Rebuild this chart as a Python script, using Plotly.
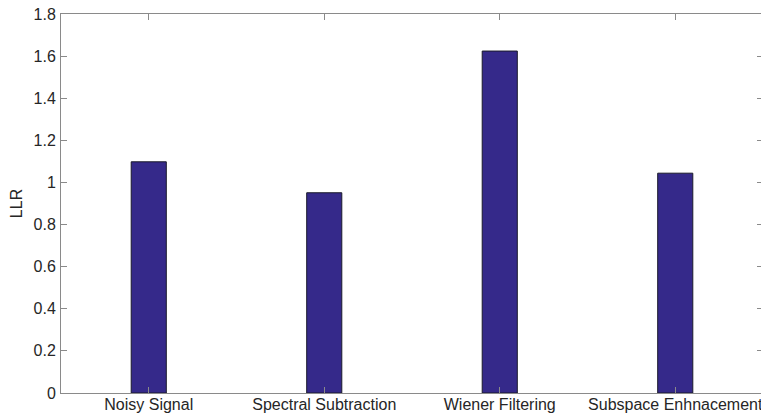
import plotly.graph_objects as go

categories = ["Noisy Signal", "Spectral Subtraction", "Wiener Filtering", "Subspace Enhnacement"]
llr_values = [1.098, 0.951, 1.624, 1.044]
y_ticks = [0, 0.2, 0.4, 0.6, 0.8, 1, 1.2, 1.4, 1.6, 1.8]
y_tick_labels = ["0", "0.2", "0.4", "0.6", "0.8", "1", "1.2", "1.4", "1.6", "1.8"]

x_pos = list(range(1, len(categories) + 1))

FONT = "Liberation Sans, Arial, Helvetica, sans-serif"

fig = go.Figure()
fig.add_trace(go.Bar(
    x=x_pos, y=llr_values, width=0.2,
    marker=dict(color="#35298a", line=dict(color="#1a1a2a", width=1)),
))

axis_common = dict(
    showline=True, linecolor="#8a8a8a", linewidth=1, mirror="ticks",
    ticks="inside", ticklen=6, tickcolor="#8a8a8a", tickwidth=1,
    showgrid=False, zeroline=False, automargin=False,
    ticklabeloverflow="allow",
    tickfont=dict(family=FONT, size=16, color="#262626"),
)

# page body has an 8px default margin; the figure is sized to fill the rest
fig.update_layout(
    width=761, height=406,
    margin=dict(l=53, r=6, t=6, b=21),
    plot_bgcolor="white", paper_bgcolor="white",
    showlegend=False,
    xaxis=dict(range=[0.5, 4.5], tickvals=x_pos, ticktext=categories,
               ticklabelstandoff=-3, **axis_common),
    yaxis=dict(range=[0, 1.8], tickvals=y_ticks, ticktext=y_tick_labels,
               ticklabelstandoff=1,
               title=dict(text="LLR", standoff=8,
                          font=dict(family=FONT, size=16, color="#262626")),
               **axis_common),
)

fig.write_html("out.html")
